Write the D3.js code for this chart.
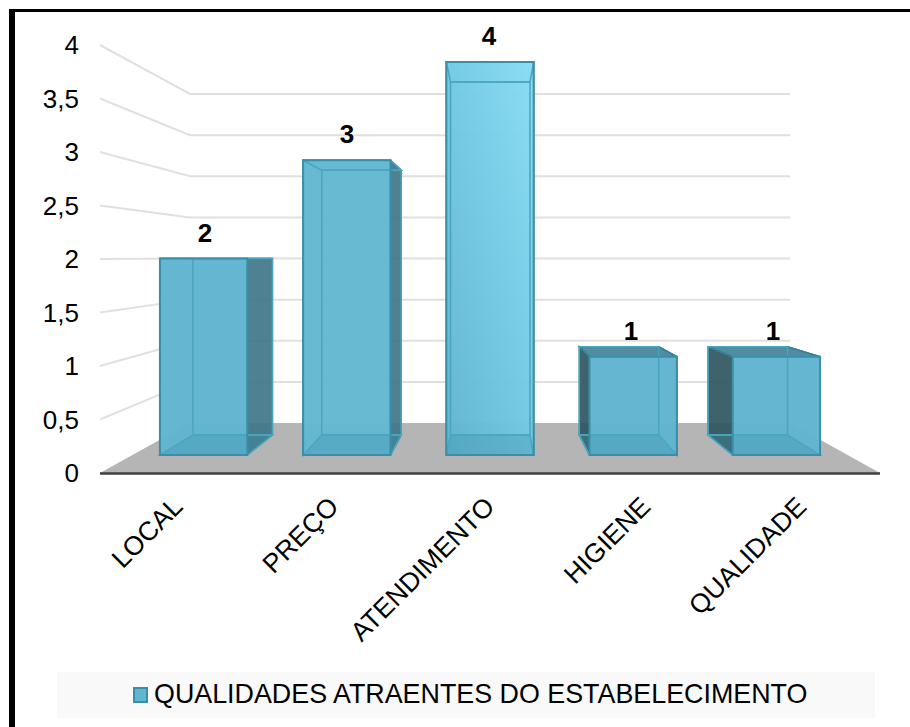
<!DOCTYPE html>
<html>
<head>
<meta charset="utf-8">
<script src="https://cdn.jsdelivr.net/npm/d3@7"></script>
<style>
  html, body { margin: 0; padding: 0; background: #fff; }
  svg { display: block; font-family: "Liberation Sans", Arial, sans-serif; }
</style>
</head>
<body>
<div id="vis"></div>
<script>
const categories = ['LOCAL', 'PREÇO', 'ATENDIMENTO', 'HIGIENE', 'QUALIDADE'];
const values = [2, 3, 4, 1, 1];
const yTicks = [0, 0.5, 1, 1.5, 2, 2.5, 3, 3.5, 4];
const seriesName = 'QUALIDADES ATRAENTES DO ESTABELECIMENTO';

const width = 910;
const height = 727;

const svg = d3.select('#vis')
  .append('svg')
    .attr('width', width)
    .attr('height', height);

// frame, only top and left in the original
svg.append('rect').attr('x', 9).attr('y', 9).attr('width', width - 9).attr('height', 3).attr('fill', '#000');
svg.append('rect').attr('x', 9).attr('y', 9).attr('width', 6).attr('height', height - 9).attr('fill', '#000');

const defs = svg.append('defs');
// the tallest bar is lighter than the rest
const gradTall = defs.append('linearGradient')
    .attr('id', 'barTall')
    .attr('x1', 0).attr('y1', 1)
    .attr('x2', 1).attr('y2', 0);
gradTall.append('stop').attr('offset', 0).attr('stop-color', '#5fb4ce');
gradTall.append('stop').attr('offset', 0.5).attr('stop-color', '#72c8e2');
gradTall.append('stop').attr('offset', 1).attr('stop-color', '#86dcf4');

const barFill = d => d.v === 4 ? 'url(#barTall)' : d.v === 3 ? '#63b8d2' : '#60b5cf';

// walls: front edge and back edge of the 3d box
const wallFront = d3.scaleLinear().domain([0, 4]).range([473, 45]);
const wallBack = d3.scaleLinear().domain([0, 4]).range([423, 94]);
const wallX = {front: 100, backLeft: 190, backRight: 790, frontRight: 880};

// bars: front and back face
const yFront = d3.scaleLinear().domain([0, 4]).range([455, 62]);
const yBack = d3.scaleLinear().domain([0, 4]).range([435, 82]);
const xFront = d3.scaleBand().domain(categories).range([132, 848]).paddingInner(0.39).paddingOuter(0.195);
const xBack = d3.scaleBand().domain(categories).range([168.5, 812]).paddingInner(0.383).paddingOuter(0.19);
// labels sit on their own spacing
const xLabel = d3.scaleBand().domain(categories).range([100, 880]);
const xValue = d3.scalePoint().domain(categories).range([205, 773]);

// floor
svg.append('path')
  .attr('d', d3.line()([
    [wallX.front, wallFront(0)], [wallX.backLeft, wallBack(0)],
    [wallX.backRight, wallBack(0)], [wallX.frontRight, wallFront(0)]
  ]))
  .attr('fill', '#b5b5b5');

// grid lines
const grid = svg.append('g').attr('fill', 'none').attr('stroke', '#e0e0e0').attr('stroke-width', 2);
grid.selectAll('path')
  .data(yTicks.filter(d => d > 0))
  .join('path')
    .attr('d', d => d3.line()([
      [wallX.front, wallFront(d)], [wallX.backLeft, wallBack(d)], [wallX.backRight, wallBack(d)]
    ]));

// axis line
svg.append('line')
  .attr('x1', wallX.front).attr('x2', wallX.frontRight)
  .attr('y1', wallFront(0) + 0.5).attr('y2', wallFront(0) + 0.5)
  .attr('stroke', '#404040').attr('stroke-width', 2.5);

// y labels
svg.append('g')
  .selectAll('text')
  .data(yTicks)
  .join('text')
    .attr('x', 79)
    .attr('y', d => wallFront(d))
    .attr('dy', '0.36em')
    .attr('text-anchor', 'end')
    .attr('font-size', 26)
    .attr('fill', '#000')
    .text(d => String(d).replace('.', ','));

// bars, each one a see through box
const edge = '#3a8fa8';
const sideEdge = '#35809a';
const inner = '#4aa6c0';
const bars = svg.append('g')
  .selectAll('g')
  .data(categories.map((c, i) => ({c, v: values[i]})))
  .join('g');

const poly = pts => d3.line()(pts) + 'Z';
const corners = d => {
  const fl = xFront(d.c), fr = fl + xFront.bandwidth();
  const bl = xBack(d.c), br = bl + xBack.bandwidth();
  return {
    fl, fr, bl, br,
    ft: yFront(d.v), fb: yFront(0),
    bt: yBack(d.v), bb: yBack(0)
  };
};
const facePath = {
  back: k => poly([[k.bl, k.bt], [k.br, k.bt], [k.br, k.bb], [k.bl, k.bb]]),
  floor: k => poly([[k.fl, k.fb], [k.fr, k.fb], [k.br, k.bb], [k.bl, k.bb]]),
  left: k => poly([[k.fl, k.ft], [k.bl, k.bt], [k.bl, k.bb], [k.fl, k.fb]]),
  right: k => poly([[k.fr, k.ft], [k.br, k.bt], [k.br, k.bb], [k.fr, k.fb]]),
  top: k => poly([[k.fl, k.ft], [k.fr, k.ft], [k.br, k.bt], [k.bl, k.bt]]),
  front: k => poly([[k.fl, k.ft], [k.fr, k.ft], [k.fr, k.fb], [k.fl, k.fb]])
};

// sides that stick out of the front face are dark
bars.append('path')
  .attr('d', d => facePath.left(corners(d)))
  .attr('fill', d => corners(d).bl < corners(d).fl ? '#2f5560' : 'none')
  .attr('fill-opacity', 0.92)
  .attr('stroke', sideEdge).attr('stroke-width', 1.5);
bars.append('path')
  .attr('d', d => facePath.right(corners(d)))
  .attr('fill', d => corners(d).br > corners(d).fr ? '#3f7688' : 'none')
  .attr('fill-opacity', 0.92)
  .attr('stroke', sideEdge).attr('stroke-width', 1.5);
bars.append('path')
  .attr('d', d => facePath.top(corners(d)))
  .attr('fill', d => yBack(d.v) < yFront(d.v) ? '#3f7f95' : 'none')
  .attr('fill-opacity', 0.9)
  .attr('stroke', sideEdge).attr('stroke-width', 1.5);
// front face
bars.append('path')
  .attr('d', d => facePath.front(corners(d)))
  .attr('fill', barFill).attr('fill-opacity', 0.97);
// bottom of the box shows through
bars.append('path')
  .attr('d', d => facePath.floor(corners(d)))
  .attr('fill', '#3f93ad').attr('fill-opacity', 0.35);
// inner edges
bars.append('path')
  .attr('d', d => facePath.back(corners(d)))
  .attr('fill', 'none')
  .attr('stroke', inner).attr('stroke-width', 1.5);
bars.append('path')
  .attr('d', d => facePath.floor(corners(d)))
  .attr('fill', 'none')
  .attr('stroke', inner).attr('stroke-width', 1.5);
bars.filter(d => d.v >= 3).append('path')
  .attr('d', d => facePath.top(corners(d)))
  .attr('fill', 'none')
  .attr('stroke', inner).attr('stroke-width', 1.5);
// front outline
bars.append('path')
  .attr('d', d => facePath.front(corners(d)))
  .attr('fill', 'none')
  .attr('stroke', edge).attr('stroke-width', 2);

// value labels
bars.append('text')
  .attr('x', d => xValue(d.c))
  .attr('y', d => yFront(d.v) - 17)
  .attr('text-anchor', 'middle')
  .attr('font-size', 26)
  .attr('font-weight', 'bold')
  .attr('fill', '#000')
  .text(d => d.v);

// category labels
svg.append('g')
  .selectAll('text')
  .data(categories)
  .join('text')
    .attr('transform', d => `translate(${xLabel(d) + xLabel.bandwidth() / 2 - 7},${495}) rotate(-45)`)
    .attr('text-anchor', 'end')
    .attr('dy', '0.7em')
    .attr('font-size', 26.5)
    .attr('fill', '#000')
    .text(d => d);

// legend
const legend = svg.append('g');
legend.append('rect')
  .attr('x', 57).attr('y', 672).attr('width', 818).attr('height', 46)
  .attr('fill', '#f9f9f9');
legend.append('rect')
  .attr('x', 134).attr('y', 688).attr('width', 13).attr('height', 14)
  .attr('fill', '#60b5cf').attr('stroke', edge).attr('stroke-width', 2);
legend.append('text')
  .attr('x', 154).attr('y', 703)
  .attr('font-size', 26.85)
  .attr('fill', '#000')
  .text(seriesName);
</script>
</body>
</html>
